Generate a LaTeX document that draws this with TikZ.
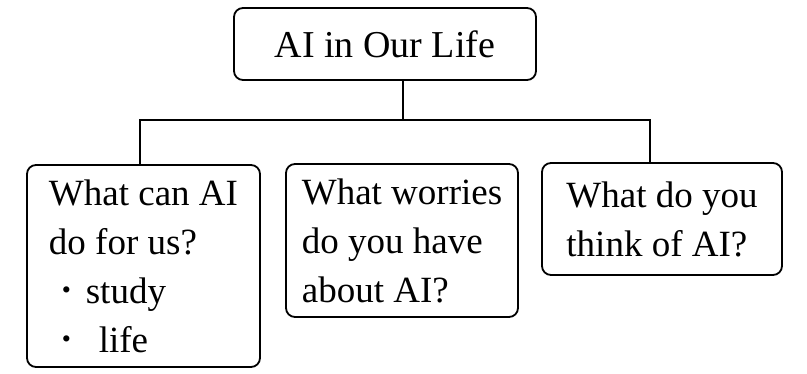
\documentclass[tikz,border=0pt]{standalone}
\usepackage{fontspec}
\setmainfont{Liberation Serif}
\newcommand{\smbul}{\raisebox{0.12em}{\fontsize{26}{26}\selectfont •}}
\begin{document}
\begin{tikzpicture}[x=1pt,y=-1pt,
  boxstyle/.style={draw, line width=1.8pt, rounded corners=9pt, inner sep=0pt, align=left},
  linkstyle/.style={line width=1.6pt}]
\useasboundingbox (0,0) rectangle (807,373);
\node[boxstyle, minimum width=302pt, minimum height=72pt, font=\fontsize{38}{48}\selectfont] (top) at (385,44) {AI in Our Life};
\node[boxstyle, minimum width=233pt, minimum height=202pt, font=\fontsize{37}{49}\selectfont] (left) at (143.5,266) {What can AI\\do for us?\\\hspace*{0.35em}\smbul\hspace{0.4em}study\\\hspace*{0.35em}\smbul\hspace{0.75em}life};
\node[boxstyle, minimum width=232pt, minimum height=153pt, font=\fontsize{37}{49}\selectfont] (mid) at (402,240.5) {What worries\\do you have\\about AI?};
\node[boxstyle, minimum width=240pt, minimum height=112pt, font=\fontsize{37}{49}\selectfont] (right) at (662,219) {What do you\\think of AI?};
\coordinate (jl) at (140,120);
\coordinate (jm) at (403,120);
\coordinate (jr) at (650,120);
\draw[linkstyle] (top.south -| jm) -- (jm);
\draw[linkstyle] (left.north -| jl) -- (jl) -- (jr) -- (right.north -| jr);
\end{tikzpicture}
\end{document}
